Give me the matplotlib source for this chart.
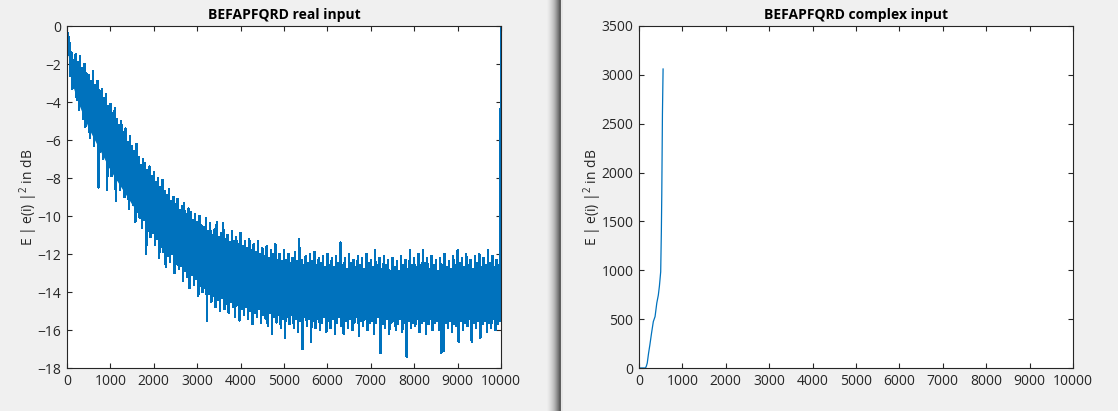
import numpy as np
import matplotlib
matplotlib.use('Agg')
import matplotlib.pyplot as plt
from matplotlib.patches import Rectangle

plt.rcParams['font.family'] = ['Open Sans', 'DejaVu Sans']
plt.rcParams['mathtext.default'] = 'regular'

# ---- data: left panel (real input), learning curve in dB ----
# solid core of the noise band
core_x = [0, 100, 250, 500, 750, 1000, 1250, 1500, 1750, 2000, 2250, 2500, 3000,
          3500, 4000, 4500, 5000, 5500, 6000, 6500, 7000, 7500, 8000, 8500, 9000,
          9500, 9950]
core_top = [-0.6, -1.8, -2.3, -3.2, -4.1, -5.2, -6.1, -7.1, -7.8, -8.5, -9.1, -9.7,
            -10.7, -11.4, -12.0, -12.4, -12.7, -12.8, -12.9, -12.9, -13.0, -13.1,
            -13.0, -13.0, -12.9, -13.0, -13.0]
core_bot = [-1.0, -2.9, -4.0, -5.4, -6.5, -7.6, -8.5, -9.4, -10.1, -10.8, -11.5, -12.1,
            -13.2, -14.0, -14.5, -14.8, -14.9, -15.0, -15.0, -15.0, -15.0, -15.1,
            -15.0, -15.0, -15.1, -15.0, -15.0]

# peak / dip pairs every 50 samples (peak at x, dip at x + 25)
real_step = 25
real_db = [
    # 0 - 975
    0.0, -1.2, -0.6, -2.6, -1.4, -3.3, -1.8, -3.1, -1.5, -3.9, -1.9, -4.4, -1.6, -4.1, -2.2, -4.9, -2.0, -5.3, -2.5, -4.8,
    -2.6, -5.9, -2.9, -5.5, -2.4, -6.3, -3.1, -5.8, -2.9, -8.5, -3.4, -6.6, -3.3, -7.0, -3.8, -6.8, -3.6, -8.6, -4.2, -7.4,
    # 1000 - 1975
    -4.1, -7.9, -4.6, -7.5, -4.3, -9.2, -4.9, -8.1, -5.2, -8.6, -5.0, -8.3, -5.6, -9.0, -5.4, -8.7, -6.1, -9.6, -5.8, -9.1,
    -6.3, -9.4, -6.6, -10.3, -6.2, -9.8, -6.9, -10.1, -7.3, -10.6, -7.0, -10.2, -7.2, -12.0, -7.6, -10.8, -7.4, -11.1, -7.9, -10.9,
    # 2000 - 2975
    -7.7, -11.5, -8.2, -11.2, -8.0, -12.2, -8.5, -11.6, -8.1, -11.9, -8.7, -12.7, -8.9, -12.1, -8.6, -12.4, -9.2, -12.0, -9.0, -13.0,
    -9.4, -12.5, -9.1, -12.8, -9.7, -12.6, -9.5, -13.4, -9.3, -12.9, -9.9, -13.2, -9.6, -13.8, -9.8, -13.1, -10.2, -13.6, -9.9, -13.3,
    # 3000 - 3975
    -10.3, -14.2, -10.0, -13.7, -10.5, -14.0, -10.6, -13.8, -10.1, -15.5, -10.8, -14.1, -10.4, -14.5, -11.0, -14.2, -10.7, -14.8, -10.3, -14.4,
    -11.1, -15.0, -10.9, -14.3, -10.4, -14.9, -11.2, -14.6, -11.0, -15.1, -11.4, -14.5, -10.8, -14.8, -11.3, -15.3, -11.1, -14.7, -11.5, -15.5,
    # 4000 - 4975
    -10.9, -14.9, -11.6, -15.2, -11.3, -14.8, -11.7, -15.4, -11.2, -15.0, -11.8, -15.7, -11.5, -15.1, -11.9, -15.3, -11.3, -14.9, -12.0, -15.6,
    -11.7, -15.2, -12.1, -15.4, -11.6, -15.8, -12.2, -15.1, -11.8, -16.2, -12.0, -15.3, -11.5, -15.6, -12.3, -15.2, -12.0, -15.9, -12.4, -15.4,
    # 5000 - 5975
    -11.8, -16.4, -12.3, -15.3, -12.0, -15.7, -12.5, -15.2, -12.2, -15.9, -11.9, -15.4, -12.4, -16.1, -11.2, -15.5, -12.3, -17.0, -12.6, -15.3,
    -12.1, -15.8, -12.5, -15.4, -12.0, -16.6, -12.4, -15.5, -11.9, -15.9, -12.6, -15.4, -12.2, -16.0, -12.5, -15.6, -12.1, -15.3, -12.7, -16.1,
    # 6000 - 6975
    -12.0, -15.5, -12.6, -15.9, -12.2, -15.4, -12.7, -16.2, -12.1, -15.6, -12.5, -15.3, -11.4, -15.8, -12.6, -16.2, -12.2, -15.5, -12.8, -15.9,
    -12.0, -15.4, -12.5, -16.0, -12.3, -15.6, -12.7, -15.3, -12.1, -16.3, -12.6, -15.5, -12.2, -15.8, -12.8, -15.4, -12.0, -16.0, -12.5, -15.6,
    # 7000 - 7975
    -12.3, -15.5, -12.7, -16.2, -11.8, -15.6, -12.6, -15.3, -12.2, -17.2, -12.8, -15.7, -12.1, -15.9, -12.6, -15.4, -12.3, -16.2, -12.9, -15.6,
    -12.2, -15.5, -12.7, -16.0, -12.4, -15.7, -12.9, -15.4, -12.1, -16.1, -12.6, -15.6, -12.3, -17.4, -12.8, -15.5, -11.8, -15.9, -12.6, -15.6,
    # 8000 - 8975
    -12.2, -15.8, -12.7, -15.4, -12.0, -16.1, -12.6, -15.6, -11.8, -15.5, -12.5, -16.2, -12.2, -15.7, -12.8, -15.4, -12.1, -16.0, -12.6, -15.6,
    -12.3, -15.5, -12.9, -16.0, -12.2, -17.2, -12.6, -17.1, -12.0, -15.6, -12.7, -15.9, -12.4, -15.5, -12.8, -16.1, -12.1, -15.7, -12.6, -15.8,
    # 9000 - 9975
    -11.8, -16.6, -12.5, -15.5, -12.2, -16.0, -12.7, -15.6, -12.0, -15.8, -12.6, -15.4, -12.3, -16.6, -12.8, -15.6, -12.1, -15.9, -12.5, -15.5,
    -12.0, -16.4, -12.7, -15.7, -12.2, -15.5, -12.6, -16.1, -11.8, -15.6, -12.5, -15.9, -12.1, -15.4, -12.7, -16.0, -12.3, -15.7, -12.6, -15.5,
    # 10000
    0.0,
]

# ---- data: right panel (complex input), diverges early ----
cplx_x = [0, 100, 150, 170, 190, 220, 250, 290, 330, 370, 410, 445, 470, 500, 515, 525, 540, 555]
cplx_y = [0, 0, 0, 20, 50, 150, 235, 360, 475, 526, 665, 745, 837, 985, 1395, 1780, 2600, 3060]

titles = ['BEFAPFQRD real input', 'BEFAPFQRD complex input']
ylabel = 'E | e(i) |$^2$ in dB'
blue = '#0072BD'
ink = '#262626'

W, H = 1118, 411
fig = plt.figure(figsize=(W / 100, H / 100), dpi=100, facecolor='#F0F0F0')

# window divider between the two figure screenshots
shade = ['#EDEDED', '#E8E8E8', '#E2E2E2', '#DBDBDB', '#D3D3D3', '#CACACA',
         '#C0C0C0', '#B4B4B4', '#A6A6A6', '#969696', '#858585', '#747474']
for i, c in enumerate(shade):
    fig.patches.append(Rectangle(((547 + i) / W, 0), 1 / W, 1, transform=fig.transFigure,
                                 facecolor=c, edgecolor='none'))
fig.patches.append(Rectangle((559 / W, 0), 2 / W, 1, transform=fig.transFigure,
                             facecolor='#5F5F5F', edgecolor='none'))
fig.patches.append(Rectangle((561 / W, 0), 2 / W, 1, transform=fig.transFigure,
                             facecolor='#E6E6E6', edgecolor='none'))

ax1 = fig.add_axes([67 / W, 43 / H, 434 / W, 342 / H])
ax2 = fig.add_axes([639 / W, 43 / H, 434 / W, 342 / H])

ax1.fill_between(core_x, core_top, core_bot, color=blue, linewidth=0)
ax1.plot(np.arange(len(real_db)) * real_step, real_db, color=blue, lw=1.0,
         antialiased=False)
ax1.set_xlim(0, 10000)
ax1.set_ylim(-18, 0)
ax1.set_yticks(np.arange(-18, 1, 2))

ax2.plot(cplx_x, cplx_y, color=blue, lw=0.9)
ax2.set_xlim(0, 10000)
ax2.set_ylim(0, 3500)
ax2.set_yticks(np.arange(0, 3501, 500))

for ax, t in zip([ax1, ax2], titles):
    ax.set_xticks(np.arange(0, 10001, 1000))
    ax.set_title(t, fontsize=10, fontweight='bold', color='black', pad=5)
    ax.set_ylabel(ylabel, fontsize=10, color=ink, labelpad=-1.5)
    ax.tick_params(direction='in', top=True, right=True, length=3.5, width=0.8,
                   colors=ink, labelsize=10, pad=4)
    for s in ax.spines.values():
        s.set_color(ink)
        s.set_linewidth(0.8)

fig.savefig('out.png', dpi=100, facecolor=fig.get_facecolor())
